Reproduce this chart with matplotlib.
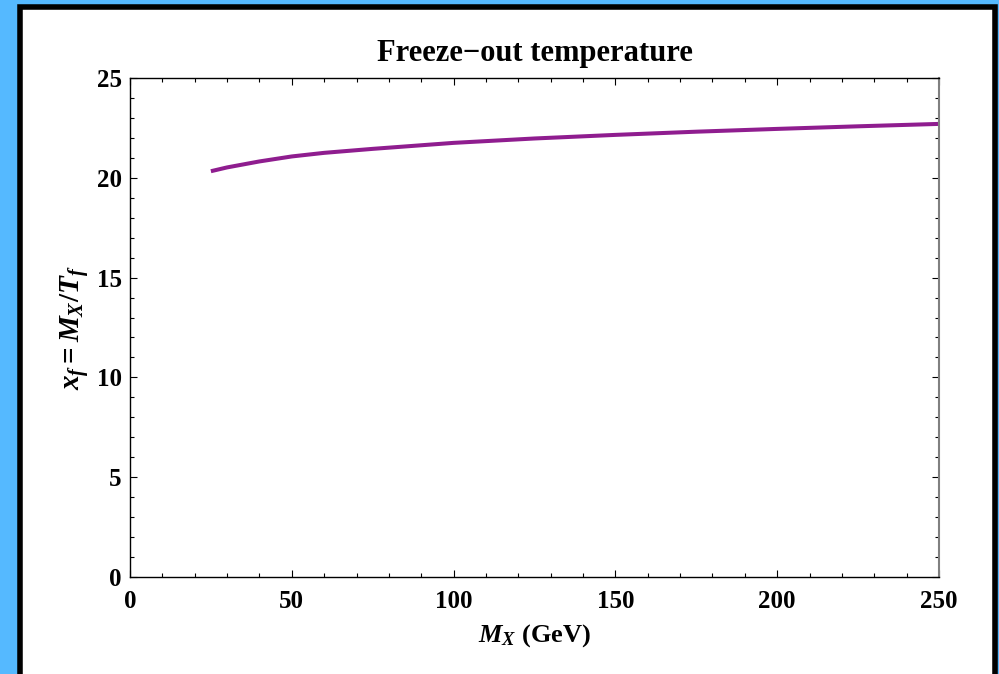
import matplotlib.pyplot as plt
import matplotlib.patches as patches
from matplotlib.ticker import MultipleLocator

# freeze-out parameter vs DM mass
mass = [25, 30, 40, 50, 60, 75, 100, 125, 150, 175, 200, 225, 250]
xf = [20.33, 20.52, 20.82, 21.07, 21.25, 21.45, 21.75, 21.97, 22.15, 22.31, 22.45, 22.58, 22.70]

xticks = [0, 50, 100, 150, 200, 250]
yticks = [0, 5, 10, 15, 20, 25]

plt.rcParams['font.family'] = ['Liberation Serif', 'DejaVu Serif']
plt.rcParams['font.weight'] = 'bold'
plt.rcParams['mathtext.fontset'] = 'custom'
plt.rcParams['mathtext.rm'] = 'Liberation Serif:bold'
plt.rcParams['mathtext.it'] = 'Liberation Serif:italic:bold'
plt.rcParams['mathtext.bf'] = 'Liberation Serif:bold'

W, H = 999, 674
fig = plt.figure(figsize=(W / 100, H / 100), dpi=100, facecolor='#55b9ff')

# white panel with thick black frame (behind the axes)
frame = patches.Rectangle((19.5 / W, -0.05), 975 / W, 1.05 - 6.5 / H,
                          transform=fig.transFigure, facecolor='white',
                          edgecolor='black', linewidth=4, zorder=-1)
fig.patches.append(frame)

ax = fig.add_axes([130 / W, 1 - 577 / H, 809 / W, 499 / H])
ax.set_zorder(1)
ax.plot(mass, xf, color='#8f1d8f', linewidth=2.9, solid_capstyle='butt')

ax.set_xlim(0, 250)
ax.set_ylim(0, 25)
ax.set_xticks(xticks)
ax.set_yticks(yticks)
ax.xaxis.set_minor_locator(MultipleLocator(10))
ax.yaxis.set_minor_locator(MultipleLocator(1))
ax.tick_params(which='both', direction='in', top=True, right=True, labelsize=18, width=0.8)
ax.tick_params(which='major', length=5)
ax.tick_params(which='minor', length=3)
ax.tick_params(axis='x', which='major', pad=9)
ax.tick_params(axis='y', which='major', pad=6)
for s in ax.spines.values():
    s.set_linewidth(1.0)
ax.spines['right'].set_color('#808080')
ax.spines['right'].set_linewidth(1.5)

ax.set_title('Freeze\u2212out temperature', fontsize=22, fontweight='bold', pad=12)
ax.set_xlabel(r'$M_X$ (GeV)', fontsize=19, fontweight='bold', labelpad=7)
ax.set_ylabel(r'$x_f = M_X/T_f$', fontsize=21, labelpad=4)

fig.savefig('out.png', dpi=100, facecolor=fig.get_facecolor())
